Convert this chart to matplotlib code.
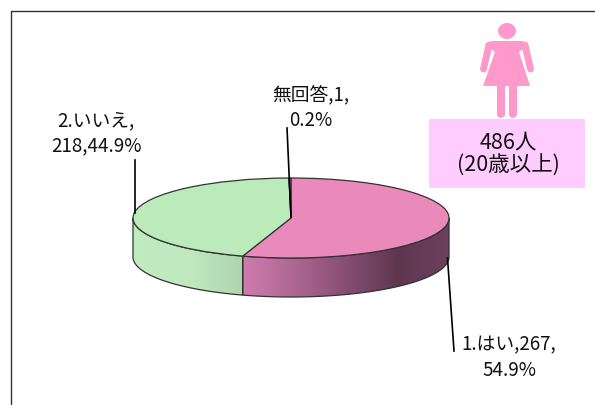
import numpy as np
import matplotlib
matplotlib.use("Agg")
import matplotlib.pyplot as plt
from matplotlib.patches import Wedge, Polygon, Rectangle, Ellipse
from matplotlib.colors import LinearSegmentedColormap
from matplotlib.transforms import Affine2D

plt.rcParams['font.family'] = ['Noto Sans CJK JP', 'DejaVu Sans']

categories = ["1.はい", "2.いいえ", "無回答"]
counts = [267, 218, 1]
percents = ["54.9%", "44.9%", "0.2%"]
top_colors = ["#ea8abb", "#bbeabb", "#a0a0d0"]
total_label = "486人\n(20歳以上)"

# pie geometry, in pixels of the 595x405 picture
cx, cy = 291, 218
rx, ry = 158, 40
depth = 39

fig = plt.figure(figsize=(5.95, 4.05), dpi=100)
ax = fig.add_axes([0, 0, 1, 1])
ax.axis("off")

# frame, open on the right and the bottom
ax.plot([10.5, 10.5, 595], [405, 10.5, 10.5], color="#333333", lw=1.0)


def ell(a):
    a = np.radians(a)
    return cx + rx * np.cos(a), cy - ry * np.sin(a)


# slice angles, clockwise from twelve o'clock
fracs = np.array(counts) / sum(counts)
ends = 90 - 360 * np.cumsum(fracs)
starts = np.r_[90, ends[:-1]]


def side(a1, a2, colors, x0, x1):
    # a1 > a2, both on the front half of the ellipse
    ang = np.linspace(a1, a2, 80)
    xs, ys = ell(ang)
    pts = np.r_[np.c_[xs, ys], np.c_[xs[::-1], ys[::-1] + depth]]
    poly = Polygon(pts, closed=True, facecolor="none", edgecolor="#333333", lw=0.9, zorder=3)
    ax.add_patch(poly)
    cmap = LinearSegmentedColormap.from_list("side", colors)
    im = ax.imshow(np.linspace(0, 1, 256)[None, :], cmap=cmap, aspect="auto",
                   extent=(x0, x1, cy + ry + depth + 2, cy - 2), zorder=2)
    im.set_clip_path(poly)


side(0, ends[0], [(0, "#d07cac"), (0.28, "#a8648f"), (0.75, "#5f3650"), (1, "#6e4060")], cx - 48, cx + rx)
side(-180, ends[0], [(0, "#c0ecc0"), (0.55, "#bfe8bf"), (1, "#aed4ae")], cx - rx, cx - 48)

# top of the pie: wedges squashed into an ellipse
squash = Affine2D().scale(rx, -ry).translate(cx, cy) + ax.transData
for a1, a2, c in zip(starts, ends, top_colors):
    ax.add_patch(Wedge((0, 0), 1, a2, a1, facecolor=c, edgecolor="#333333", lw=0.9,
                       transform=squash, zorder=4))

# leader lines
ax.plot([287, 291], [128, 217], color="black", lw=1.2, zorder=5)
ax.plot([134.5, 134.5], [160, 213], color="black", lw=1.2, zorder=5)
ax.plot([447.5, 454], [258, 351], color="black", lw=1.2, zorder=5)

# data labels
txt = dict(ha="center", va="center", fontsize=13.5, linespacing=1.27, color="#111111", zorder=6)
ax.text(311, 107.5, f"{categories[2]},{counts[2]},\n{percents[2]}", **txt)
ax.text(96, 133.5, f"{categories[1]},\n{counts[1]},{percents[1]}", **txt)
ax.text(509, 357.5, f"{categories[0]},{counts[0]},\n{percents[0]}", **txt)

# total box with the figure above it
ax.add_patch(Rectangle((429, 119), 156, 69, facecolor="#ffccff", edgecolor="none"))
ax.text(508, 154, total_label, ha="center", va="center", fontsize=15.5, linespacing=1.05, color="#111111")

pink = "#ff99cc"
ax.add_patch(Ellipse((507, 31), 18, 16, facecolor=pink, edgecolor="none"))
ax.add_patch(Polygon([(491, 41), (523, 41), (526, 47), (519, 52), (530, 86), (483, 86),
                      (495, 52), (488, 47)], closed=True, facecolor=pink, edgecolor="none"))
ax.plot([489, 483.5], [45, 69], color=pink, lw=5, solid_capstyle="round")
ax.plot([525, 530.5], [45, 69], color=pink, lw=5, solid_capstyle="round")
ax.plot([501, 501], [85, 114], color=pink, lw=5.8, solid_capstyle="round")
ax.plot([513, 513], [85, 114], color=pink, lw=5.8, solid_capstyle="round")

ax.set_xlim(0, 595)
ax.set_ylim(405, 0)
fig.savefig("out.png", dpi=100)
